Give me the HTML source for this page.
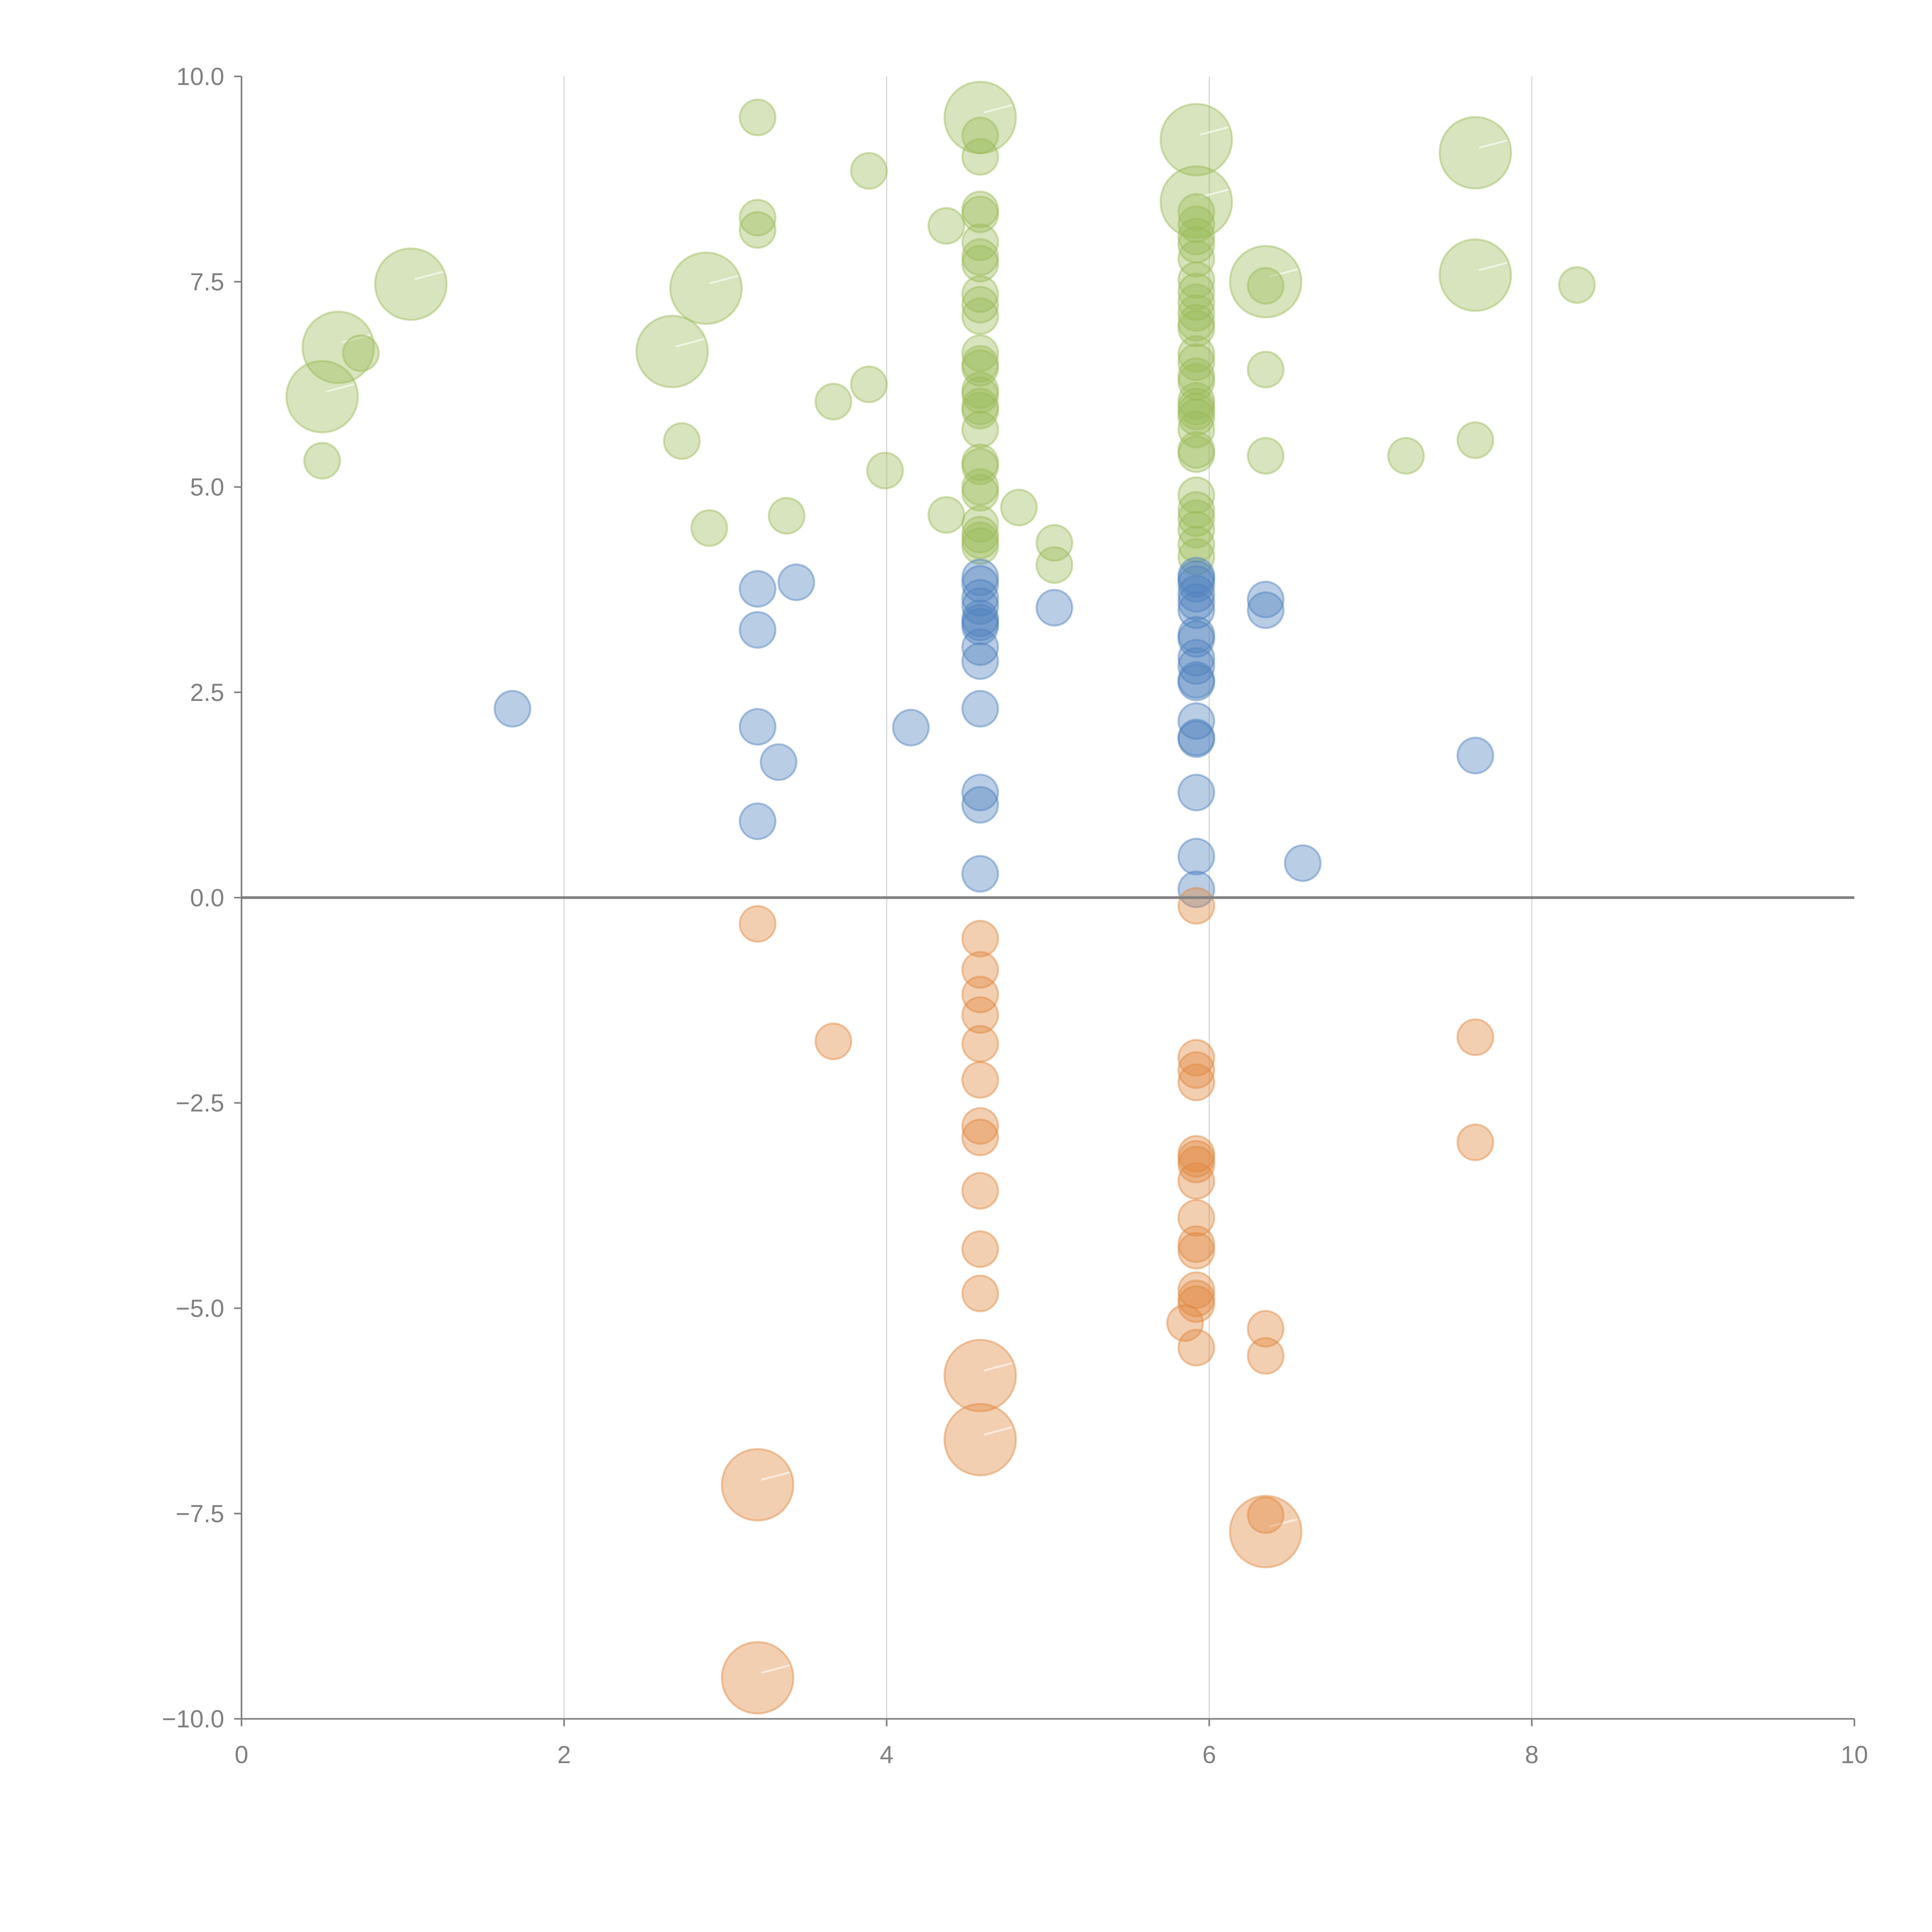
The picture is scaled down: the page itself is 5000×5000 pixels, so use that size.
<!DOCTYPE html>
<html><head><meta charset="utf-8"><style>html,body{margin:0;padding:0;background:#fff}svg{display:block}</style></head>
<body>
<svg id="chart" width="5000" height="5000" viewBox="0 0 1568 1568" xmlns="http://www.w3.org/2000/svg" font-family="'Liberation Sans', sans-serif">
<g id="grid"></g>
<g id="marks"></g>
<g id="axes"></g>
</svg>
<script>
const xTicks = [0, 2, 4, 6, 8, 10];
const yTicks = [-10, -7.5, -5, -2.5, 0, 2.5, 5, 7.5, 10];
const greenX = [0.5,0.6,1.05,2.67,2.88,4.58,5.92,5.92,6.35,7.65,7.65,
 0.5,0.74,2.73,2.9,3.2,3.2,3.2,3.38,3.67,3.89,3.89,3.99,4.37,4.37,
 4.58,4.58,4.58,4.58,4.58,4.58,4.58,4.58,4.58,4.58,4.58,4.58,4.58,4.58,4.58,4.58,4.58,4.58,4.58,4.58,4.58,4.58,4.58,4.58,4.58,4.58,
 4.82,5.04,5.04,
 5.92,5.92,5.92,5.92,5.92,5.92,5.92,5.92,5.92,5.92,5.92,5.92,5.92,5.92,5.92,5.92,5.92,5.92,5.92,5.92,5.92,5.92,5.92,5.92,5.92,5.92,5.92,5.92,
 6.35,6.35,6.35,7.22,7.65,8.28];
const greenY = [6.1,6.7,7.47,6.65,7.42,9.5,9.23,8.47,7.5,9.07,7.58,
 5.32,6.63,5.56,4.5,9.5,8.28,8.13,4.65,6.04,8.85,6.25,5.2,8.18,4.66,
 9.28,9.02,8.38,8.32,7.98,7.8,7.72,7.35,7.22,7.08,6.63,6.5,6.45,6.18,6.12,5.98,5.93,5.7,5.3,5.25,5.0,4.93,4.55,4.42,4.35,4.28,
 4.75,4.32,4.05,
 8.35,8.2,8.05,7.95,7.78,7.52,7.38,7.25,7.12,7.0,6.93,6.62,6.52,6.35,6.28,6.05,5.98,5.92,5.85,5.7,5.45,5.4,4.9,4.72,4.62,4.48,4.3,4.15,
 7.45,6.43,5.38,5.38,5.57,7.46];
const greenSize = [4,4,4,4,4,4,4,4,4,4,4];
const blueX = [1.68,3.2,3.2,3.2,3.2,3.33,3.44,4.15,
 4.58,4.58,4.58,4.58,4.58,4.58,4.58,4.58,4.58,4.58,4.58,4.58,4.58,5.04,
 5.92,5.92,5.92,5.92,5.92,5.92,5.92,5.92,5.92,5.92,5.92,5.92,5.92,5.92,5.92,5.92,5.92,5.92,
 6.35,6.35,6.58,7.65];
const blueY = [2.3,3.76,3.26,2.08,0.93,1.65,3.84,2.07,
 3.9,3.82,3.65,3.55,3.4,3.35,3.3,3.05,2.88,2.3,1.28,1.13,0.29,3.53,
 3.92,3.88,3.82,3.7,3.6,3.5,3.2,3.15,2.92,2.82,2.65,2.62,2.15,1.95,1.93,1.28,0.5,0.1,
 3.63,3.5,0.42,1.73];
const blueSize = [];
const orangeX = [4.58,4.58,3.2,6.35,3.2,
 3.2,3.67,4.58,4.58,4.58,4.58,4.58,4.58,4.58,4.58,4.58,4.58,4.58,
 5.92,5.92,5.92,5.92,5.92,5.92,5.92,5.92,5.92,5.92,5.92,5.92,5.92,5.92,5.92,
 5.85,6.35,6.35,6.35,7.65,7.65];
const orangeY = [-5.82,-6.6,-7.15,-7.72,-9.5,
 -0.32,-1.75,-0.5,-0.88,-1.18,-1.43,-1.78,-2.22,-2.78,-2.92,-3.57,-4.28,-4.82,
 -0.1,-1.95,-2.1,-2.25,-3.12,-3.18,-3.25,-3.45,-3.9,-4.22,-4.3,-4.78,-4.88,-4.95,-5.48,
 -5.18,-5.25,-5.58,-7.52,-1.7,-2.98];
const orangeSize = [4,4,4,4,4];

const NS = 'http://www.w3.org/2000/svg';
const X0 = 196, X1 = 1505, Y0 = 1395, Y1 = 62;
function sx(v){ return X0 + (v - 0) / 10 * (X1 - X0); }
function sy(v){ return Y0 - (v + 10) / 20 * (Y0 - Y1); }
function rad(s){ return 14.5 * Math.sqrt(s || 1); }
function mk(tag, attrs, parent){
  const e = document.createElementNS(NS, tag);
  for (const k in attrs) e.setAttribute(k, attrs[k]);
  parent.appendChild(e);
  return e;
}
const grid = document.getElementById('grid');
const marks = document.getElementById('marks');
const axes = document.getElementById('axes');

xTicks.forEach(t => {
  if (t > 0 && t < 10) {
    const g = mk('line', {x1:sx(t), x2:sx(t), y1:Y1, y2:Y0, stroke:'#d9d9d9', 'stroke-width':1}, grid);
    
    
  }
});

function series(xs, ys, sizes, fill, stroke, name){
  xs.forEach((_, i) => {
    const r = rad(sizes[i]);
    const c = mk('circle', {cx:sx(xs[i]), cy:sy(ys[i]), r:r, fill:fill, 'fill-opacity':0.4, stroke:stroke, 'stroke-opacity':0.45, 'stroke-width':1.6}, marks);
    
    
    if (sizes[i] && sizes[i] > 1) {
      const l = mk('line', {x1:sx(xs[i])+3, y1:sy(ys[i])-4, x2:sx(xs[i])+r*0.9, y2:sy(ys[i])-r*0.35, stroke:'#fff', 'stroke-opacity':0.6, 'stroke-width':1.5}, marks);
      
      
    }
  });
}
series(greenX, greenY, greenSize, '#9bbb59', '#9bbb59', 'green');
series(blueX, blueY, blueSize, '#4f81bd', '#4f81bd', 'blue');
series(orangeX, orangeY, orangeSize, '#e0883e', '#e0883e', 'orange');

const zl = mk('line', {x1:X0, x2:X1, y1:sy(0), y2:sy(0), stroke:'#808080', 'stroke-width':2.2}, axes);


const ya = mk('line', {x1:X0, x2:X0, y1:Y1, y2:Y0, stroke:'#808080', 'stroke-width':1.3}, axes);


const xa = mk('line', {x1:X0, x2:X1, y1:Y0, y2:Y0, stroke:'#808080', 'stroke-width':1.3}, axes);



yTicks.forEach(t => {
  const tk = mk('line', {x1:X0-6, x2:X0, y1:sy(t), y2:sy(t), stroke:'#808080', 'stroke-width':1.3}, axes);
  
  
  const tx = mk('text', {x:X0-14, y:sy(t)+7, 'text-anchor':'end', 'font-size':20, fill:'#808080'}, axes);
  tx.textContent = (t < 0 ? '\u2212' : '') + Math.abs(t).toFixed(1);
  
  
});
xTicks.forEach(t => {
  const tk = mk('line', {x1:sx(t), x2:sx(t), y1:Y0, y2:Y0+6, stroke:'#808080', 'stroke-width':1.3}, axes);
  
  
  const tx = mk('text', {x:sx(t), y:Y0+36, 'text-anchor':'middle', 'font-size':20, fill:'#808080'}, axes);
  tx.textContent = String(t);
  
  
});
</script>
</body></html>
